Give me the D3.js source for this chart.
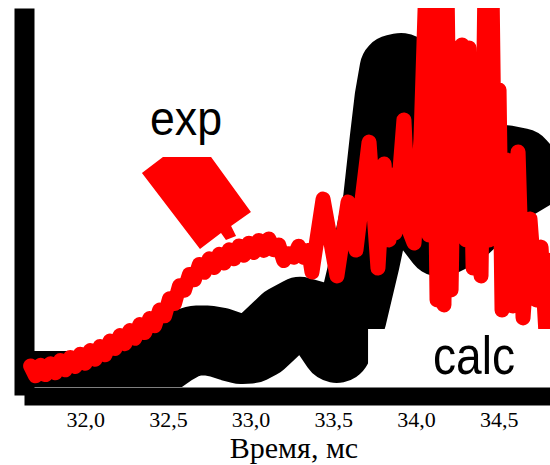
<!DOCTYPE html>
<html>
<head>
<meta charset="utf-8">
<script src="https://cdn.jsdelivr.net/npm/d3@7"></script>
<style>
  html, body { margin: 0; padding: 0; background: #fff; }
  svg { display: block; }
</style>
</head>
<body>
<svg id="chart" width="550" height="465"></svg>
<script>
// Time axis ticks (ms)
const timeTicks = [32.0, 32.5, 33.0, 33.5, 34.0, 34.5];

// Calculated signal
const calcTime = [31.63, 32.09, 32.21, 32.33, 32.45, 32.53, 32.60, 32.67, 32.74, 32.81,
  32.88, 32.94, 33.00, 33.06, 33.12, 33.21, 33.30, 33.39, 33.52, 33.61,
  33.69, 33.77, 33.81, 33.84, 33.87, 33.91, 33.95, 33.99, 34.02, 34.07,
  34.15, 34.27, 34.38, 34.46, 34.54, 34.63, 34.72, 34.81];
const calcValue = [0, 0, 1.0, 4.0, 8.7, 11.8, 14.0, 15.2, 15.2, 14.5,
  13.2, 12.3, 12.5, 14.2, 17.3, 22.0, 24.7, 23.3, 12.7, 22.7,
  41.3, 62.0, 82.0, 96.0, 105.5, 106.0, 101.0, 91.3, 72.0, 53.7,
  48.0, 51.3, 57.0, 67.0, 75.3, 74.3, 68.7, 60.3];

// Experimental signal
const expTime = [31.67, 31.70, 31.73, 31.76, 31.79, 31.82, 31.85, 31.88, 31.91, 31.94,
  31.97, 32.00, 32.03, 32.06, 32.09, 32.12, 32.15, 32.18, 32.21, 32.24,
  32.27, 32.30, 32.33, 32.36, 32.39, 32.42, 32.45, 32.48, 32.51, 32.54,
  32.57, 32.60, 32.63, 32.66, 32.69, 32.72, 32.75, 32.78, 32.81, 32.84,
  32.87, 32.90, 32.93, 32.96, 32.99, 33.02, 33.05, 33.08, 33.11, 33.14,
  33.17, 33.20, 33.23, 33.26, 33.29, 33.32, 33.35,
  33.371, 33.438, 33.522, 33.589, 33.637, 33.716, 33.770, 33.807, 33.837, 33.849,
  33.873, 33.927, 33.958, 33.988, 34.030, 34.060, 34.079, 34.103, 34.127, 34.151,
  34.169, 34.187, 34.212, 34.236, 34.260, 34.278, 34.302, 34.320, 34.345, 34.369,
  34.393, 34.417, 34.441, 34.459, 34.478, 34.502, 34.520, 34.550, 34.586, 34.617,
  34.647, 34.689, 34.726, 34.756, 34.786, 34.822];
const expValue = [6.7, 3.4, 6.9, 3.8, 7.4, 4.4, 8.5, 5.4, 9.5, 6.5,
  10.6, 7.6, 11.8, 8.9, 13.2, 10.4, 15.0, 12.5, 16.8, 14.1,
  18.5, 15.9, 20.5, 17.8, 22.5, 20.1, 25.3, 23.4, 29.1, 27.5,
  33.4, 31.9, 37.2, 35.4, 40.5, 37.9, 42.4, 39.5, 43.9, 41.0,
  45.4, 42.4, 46.7, 43.6, 47.6, 44.5, 48.5, 45.2, 49.0, 45.4,
  47.0, 41.8, 44.1, 42.9, 46.6, 42.9, 45.2,
  38.0, 62.3, 36.7, 61.3, 45.3, 81.3, 39.3, 74.0, 48.7, 70.3,
  51.0, 88.7, 52.0, 47.7, 82.3, 135, 50.3, 135, 28.7, 135,
  27.0, 135, 32.0, 112.7, 50.3, 113.7, 48.7, 112.7, 39.3, 88.7,
  36.7, 135, 48.7, 135, 52.0, 98.7, 25.3, 75.3, 26.7, 78.0,
  22.7, 55.7, 28.7, 46.3, 17.0, 42.0];

// Callout pointer from the "exp" label to the experimental curve (time, value)
const expPointerTime = [32.470, 32.761, 33.002, 32.882, 32.912, 32.851, 32.821, 32.694, 32.343];
const expPointerValue = [76.3, 76.3, 58.0, 53.3, 50.0, 48.7, 51.0, 45.7, 71.0];

const svg = d3.select('#chart');

const x = d3.scaleLinear().domain([31.63, 34.81]).range([24, 550]);
const y = d3.scaleLinear().domain([-3, 126]).range([395, 8]);

// Axes: heavy bars, no tick marks
const xAxis = d3.axisBottom(x)
  .tickValues(timeTicks)
  .tickFormat(d => d.toFixed(1).replace('.', ','))
  .tickSize(0).tickSizeOuter(0).tickPadding(15.5);
const gx = svg.append('g').attr('transform', 'translate(0,396)').call(xAxis);
gx.select('.domain').attr('stroke', '#000').attr('stroke-width', 18);
gx.selectAll('text')
  .attr('font-family', '"Liberation Serif", "Times New Roman", serif')
  .attr('font-size', 22).attr('fill', '#000');

const yAxis = d3.axisLeft(y).tickValues([]).tickSize(0).tickSizeOuter(0);
const gy = svg.append('g').attr('transform', 'translate(24,0)').call(yAxis);
gy.select('.domain').attr('stroke', '#000').attr('stroke-width', 20);

svg.append('text')
  .attr('x', 294).attr('y', 458)
  .attr('text-anchor', 'middle')
  .attr('font-family', '"Liberation Serif", "Times New Roman", serif')
  .attr('font-size', 30)
  .text('Время, мс');

// Plot clip
svg.append('defs').append('clipPath').attr('id', 'plotClip')
  .append('rect').attr('x', 14).attr('y', 8).attr('width', 536).attr('height', 379);

const plot = svg.append('g').attr('clip-path', 'url(#plotClip)');

const calcData = calcTime.map((t, i) => [t, calcValue[i]]);
const expData = expTime.map((t, i) => [t, expValue[i]]);

const line = d3.line().x(d => x(d[0])).y(d => y(d[1]));

plot.append('path')
  .attr('d', line(calcData))
  .attr('fill', 'none').attr('stroke', '#000')
  .attr('stroke-width', 70).attr('stroke-linejoin', 'round');

plot.append('path')
  .attr('d', line(expData))
  .attr('fill', 'none').attr('stroke', '#ff0000')
  .attr('stroke-width', 15).attr('stroke-linejoin', 'round').attr('stroke-linecap', 'round');

// "calc" label with white background
svg.append('rect')
  .attr('x', x(33.71)).attr('y', y(19))
  .attr('width', x(34.81) - x(33.71)).attr('height', y(-0.33) - y(19))
  .attr('fill', '#fff');
svg.append('text')
  .attr('x', x(34.103)).attr('y', y(4.0))
  .attr('font-family', '"Liberation Sans", Arial, sans-serif')
  .attr('font-size', 53)
  .attr('textLength', 82).attr('lengthAdjust', 'spacingAndGlyphs')
  .text('calc');

// "exp" label and its pointer
svg.append('text')
  .attr('x', x(32.392)).attr('y', y(83.7))
  .attr('font-family', '"Liberation Sans", Arial, sans-serif')
  .attr('font-size', 48)
  .attr('textLength', 72).attr('lengthAdjust', 'spacingAndGlyphs')
  .text('exp');

const pointer = expPointerTime.map((t, i) => [x(t), y(expPointerValue[i])]);
svg.append('path')
  .attr('d', d3.line()(pointer) + 'Z')
  .attr('fill', '#ff0000');
</script>
</body>
</html>
